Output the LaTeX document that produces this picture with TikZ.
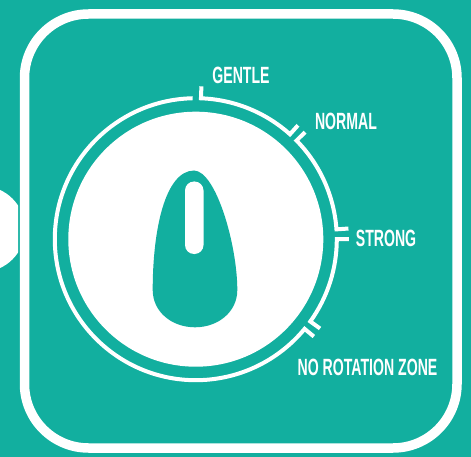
\documentclass[tikz,border=0pt]{standalone}
\usepackage{fontspec}
\newfontfamily\lab[FakeStretch=0.6]{Liberation Sans}
\definecolor{teal0}{RGB}{18,175,159}
\tikzset{
  lbl/.style={font=\lab\bfseries\fontsize{23.5}{24}\selectfont, text=white, inner sep=0pt},
  ring/.style={draw=white, line width=4pt, line join=miter},
}
\begin{document}
\begin{tikzpicture}[x=1pt,y=-1pt]
\useasboundingbox (0,0) rectangle (471,457);
\fill[teal0] (0,0) rectangle (471,457);
% outer frame
\draw[white, line width=9.5pt, rounded corners=64pt] (24.5,14) rectangle (457,448);
% left half circle
\begin{scope}
  \clip (0,0) rectangle (18,457);
  \fill[white] (-18,229) circle (43);
\end{scope}
% dial disc
\coordinate (c) at (195.8,239.2);
\fill[white] (c) circle (127.5);
% ring with ticks
\begin{scope}[shift={(c)}, yscale=-1]
  \draw[ring] (91.3:141) arc[start angle=91.3, end angle=320.5, radius=141] -- (320.5:153);
  \draw[ring] (-35.7:153) -- (-35.7:141) arc[start angle=-35.7, end angle=0, radius=141] -- (0:153);
  \draw[ring] (4:153) -- (4:141) arc[start angle=4, end angle=44.4, radius=141] -- (44.4:153);
  \draw[ring] (48.1:153) -- (48.1:141) arc[start angle=48.1, end angle=87.9, radius=141] -- (87.9:153);
\end{scope}
% knob
\fill[teal0] (152.7,290) .. controls (152.7,230) and (165,171) .. (194,170.5)
  .. controls (216,171) and (237.3,245) .. (237.3,290)
  .. controls (237.3,312) and (218,327.3) .. (195,327.3)
  .. controls (172,327.3) and (152.7,312) .. (152.7,290) -- cycle;
\fill[white, rounded corners=9pt] (185,181.5) rectangle (203.5,254);
% labels
\node[lbl] (gentle) at (241,75.5) {GENTLE};
\node[lbl] (normal) at (346,121.5) {NORMAL};
\node[lbl] (strong) at (386,238) {STRONG};
\node[lbl] (norot) at (367.5,367) {NO ROTATION ZONE};
\end{tikzpicture}
\end{document}
